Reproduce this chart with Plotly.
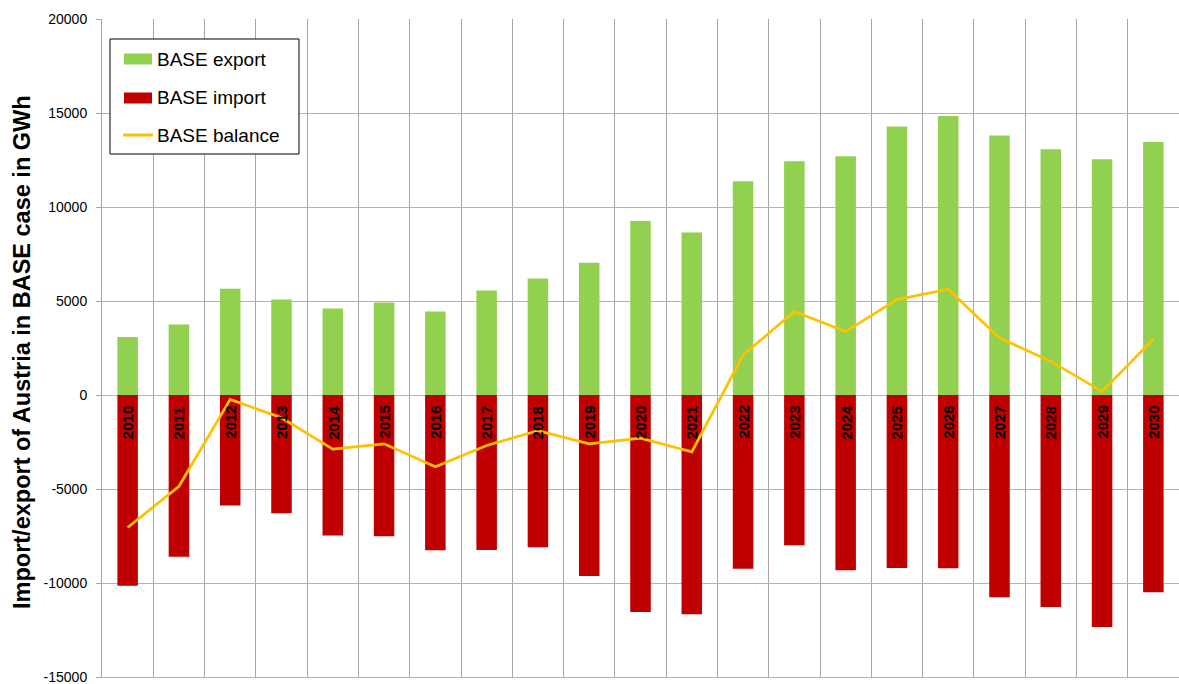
import plotly.graph_objects as go

# Austrian electricity trade, BASE case (GWh)
years = [str(y) for y in range(2010, 2031)]
export_gwh = [3090, 3745, 5647, 5077, 4598, 4917, 4438, 5557, 6196, 7032, 9249,
              8647, 11364, 12430, 12696, 14278, 14843, 13798, 13069, 12536, 13458]
import_gwh = [-10140, -8600, -5880, -6290, -7480, -7513, -8260, -8240, -8098, -9627, -11545,
              -11668, -9238, -7992, -9323, -9201, -9217, -10762, -11279, -12344, -10496]
balance_gwh = [-7050, -4855, -233, -1213, -2882, -2596, -3822, -2683, -1902, -2595, -2296,
               -3021, 2126, 4438, 3373, 5077, 5626, 3036, 1790, 192, 2962]

y_ticks = [-15000, -10000, -5000, 0, 5000, 10000, 15000, 20000]
y_tick_text = ["-15000", "-10000", "-5000", "0", "5000", "10000", "15000", "20000"]

series_names = ["BASE export", "BASE import", "BASE balance"]
GREEN, RED, AMBER = "#92D050", "#C00000", "#FFC000"
FONT = "Liberation Sans, Arial, sans-serif"

W, H = 1179, 684
ML, MR, MT, MB = 102, 0, 19, 7
PW, PH = W - ML - MR, H - MT - MB


def px_x(p):
    return (p - ML) / PW


def px_y(p):
    return (H - MB - p) / PH


fig = go.Figure()
fig.add_trace(go.Bar(x=years, y=export_gwh, name=series_names[0], marker_color=GREEN,
                     marker_line_width=0, width=0.4, showlegend=False, hoverinfo="skip"))
fig.add_trace(go.Bar(x=years, y=import_gwh, name=series_names[1], marker_color=RED,
                     marker_line_width=0, width=0.4, showlegend=False, hoverinfo="skip"))
fig.add_trace(go.Scatter(x=years, y=balance_gwh, name=series_names[2], mode="lines",
                         line=dict(color=AMBER, width=2.75), showlegend=False,
                         hoverinfo="skip"))

# year labels just below the zero line (positioned by category index)
annotations = []
for i, yr in enumerate(years):
    annotations.append(dict(x=i, y=0, xref="x", yref="y", text=f"<b>{yr}</b>",
                            textangle=-90, showarrow=False, yanchor="top",
                            xanchor="center", yshift=-9,
                            font=dict(family=FONT, size=15, color="black")))

# axis title
annotations.append(dict(x=px_x(22), y=px_y(352), xref="paper", yref="paper",
                        text="<b>Import/export of Austria in BASE case in GWh</b>",
                        textangle=-90, showarrow=False, xanchor="center", yanchor="middle",
                        font=dict(family=FONT, size=23.5, color="black")))

# legend box
shapes = [dict(type="rect", xref="paper", yref="paper",
               x0=px_x(110), x1=px_x(299), y0=px_y(154), y1=px_y(39),
               line=dict(color="black", width=1), fillcolor="white", layer="above")]
legend_rows = [(59, GREEN, "rect"), (98, RED, "rect"), (135, AMBER, "line")]
for (cy, col, kind), label in zip(legend_rows, series_names):
    if kind == "rect":
        shapes.append(dict(type="rect", xref="paper", yref="paper",
                           x0=px_x(124), x1=px_x(152), y0=px_y(cy + 5.5), y1=px_y(cy - 5.5),
                           line=dict(width=0), fillcolor=col, layer="above"))
    else:
        shapes.append(dict(type="line", xref="paper", yref="paper",
                           x0=px_x(123), x1=px_x(153), y0=px_y(cy), y1=px_y(cy),
                           line=dict(color=col, width=3), layer="above"))
    annotations.append(dict(x=px_x(155), y=px_y(cy), xref="paper", yref="paper",
                            text=label, showarrow=False, xanchor="left", yanchor="middle",
                            font=dict(family=FONT, size=19, color="black")))

fig.update_layout(
    width=W, height=H,
    margin=dict(l=ML, r=MR, t=MT, b=MB, pad=0),
    paper_bgcolor="white", plot_bgcolor="white",
    barmode="relative", bargap=0.6,
    font=dict(family=FONT, color="black"),
    shapes=shapes, annotations=annotations,
    showlegend=False,
    xaxis=dict(type="category", range=[-0.5, len(years) - 0.5], autorange=False,
               tickson="boundaries", showticklabels=False,
               showgrid=True, gridcolor="#a6a6a6", gridwidth=1,
               showline=True, linecolor="#b4b4b4", linewidth=1,
               zeroline=False, ticks=""),
    yaxis=dict(range=[-15000, 20000], autorange=False, tickvals=y_ticks, ticktext=y_tick_text,
               showgrid=True, gridcolor="#b4b4b4", gridwidth=1,
               zeroline=True, zerolinecolor="#b4b4b4", zerolinewidth=1,
               showline=True, linecolor="#a6a6a6", linewidth=1,
               ticks="outside", ticklen=5, tickcolor="#a6a6a6",
               ticklabelstandoff=6, ticklabeloverflow="allow",
               tickfont=dict(family=FONT, size=14, color="black")),
)

fig.write_html("out.html", config={"displayModeBar": False})
